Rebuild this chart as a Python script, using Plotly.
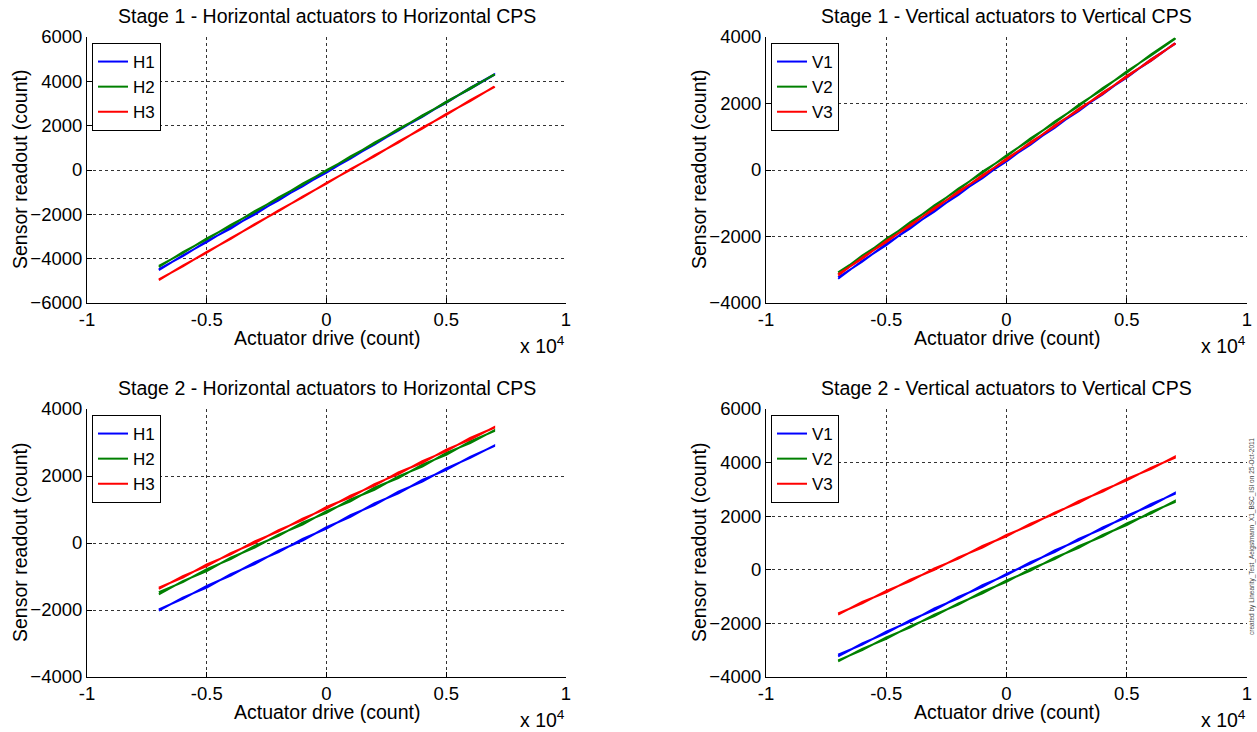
import plotly.graph_objects as go

# Actuator drive sweep (counts); each channel is swept up then back down
drive = [-7000, -6000, -5000, -4000, -3000, -2000, -1000, 0,
         1000, 2000, 3000, 4000, 5000, 6000, 7000]

# Stage 1 horizontal (sweep up / sweep down)
s1_h1_up = [-4520, -3850, -3260, -2590, -2010, -1330, -740, -80, 510, 1180, 1770, 2440, 3030, 3700, 4310]
s1_h1_dn = [-4470, -3890, -3210, -2640, -1960, -1370, -700, -120, 550, 1140, 1810, 2400, 3070, 3660, 4290]
s1_h2_up = [-4370, -3710, -3130, -2480, -1900, -1240, -660, -5, 570, 1230, 1810, 2460, 3040, 3700, 4290]
s1_h2_dn = [-4330, -3750, -3090, -2520, -1860, -1280, -620, -45, 610, 1190, 1850, 2420, 3080, 3660, 4310]
s1_h3_up = [-4970, -4310, -3730, -3070, -2480, -1820, -1240, -580, 0, 660, 1240, 1910, 2490, 3150, 3740]
s1_h3_dn = [-4930, -4350, -3690, -3110, -2440, -1860, -1200, -620, 40, 620, 1280, 1870, 2530, 3110, 3760]

# Stage 1 vertical
s1_v1_up = [-3270, -2730, -2260, -1720, -1255, -710, -245, 295, 760, 1305, 1770, 2310, 2775, 3320, 3790]
s1_v1_dn = [-3230, -2760, -2220, -1760, -1215, -750, -205, 255, 800, 1265, 1810, 2270, 2815, 3280, 3810]
s1_v2_up = [-3120, -2575, -2110, -1565, -1100, -555, -90, 445, 910, 1455, 1920, 2465, 2930, 3475, 3960]
s1_v2_dn = [-3080, -2615, -2070, -1605, -1060, -595, -50, 405, 950, 1415, 1960, 2425, 2970, 3435, 3940]
s1_v3_up = [-3170, -2630, -2170, -1640, -1180, -640, -190, 345, 800, 1340, 1800, 2330, 2790, 3320, 3790]
s1_v3_dn = [-3130, -2670, -2130, -1680, -1140, -680, -150, 305, 840, 1300, 1840, 2290, 2830, 3280, 3810]

# Stage 2 horizontal
s2_h1_up = [-2020, -1630, -1330, -930, -630, -230, 70, 470, 780, 1180, 1480, 1880, 2180, 2570, 2890]
s2_h1_dn = [-1980, -1670, -1280, -970, -580, -270, 120, 430, 830, 1130, 1530, 1830, 2230, 2540, 2910]
s2_h2_up = [-1530, -1140, -840, -440, -140, 250, 550, 950, 1240, 1650, 1940, 2340, 2630, 3030, 3340]
s2_h2_dn = [-1470, -1170, -780, -480, -90, 210, 610, 900, 1300, 1590, 1990, 2280, 2690, 2980, 3360]
s2_h3_up = [-1370, -990, -690, -300, 0, 385, 680, 1075, 1365, 1760, 2055, 2445, 2740, 3135, 3440]
s2_h3_dn = [-1330, -1030, -640, -340, 45, 345, 730, 1025, 1415, 1710, 2105, 2395, 2790, 3085, 3460]

# Stage 2 vertical
s2_v1_up = [-3230, -2750, -2365, -1880, -1500, -1015, -635, -150, 230, 720, 1095, 1585, 1960, 2450, 2830]
s2_v1_dn = [-3170, -2790, -2305, -1930, -1440, -1065, -575, -200, 290, 660, 1155, 1525, 2020, 2390, 2870]
s2_v2_up = [-3420, -2950, -2580, -2100, -1730, -1250, -880, -400, -30, 450, 820, 1300, 1670, 2150, 2530]
s2_v2_dn = [-3380, -3000, -2520, -2150, -1670, -1300, -820, -450, 30, 400, 880, 1250, 1730, 2100, 2570]
s2_v3_up = [-1670, -1200, -845, -370, -5, 465, 830, 1300, 1665, 2135, 2500, 2970, 3335, 3805, 4180]
s2_v3_dn = [-1630, -1255, -785, -420, 55, 415, 890, 1250, 1725, 2085, 2560, 2920, 3395, 3755, 4220]

x_ticks = [-10000, -5000, 0, 5000, 10000]
x_tick_text = ["-1", "-0.5", "0", "0.5", "1"]

titles = [
    "Stage 1 - Horizontal actuators to Horizontal CPS",
    "Stage 1 - Vertical actuators to Vertical CPS",
    "Stage 2 - Horizontal actuators to Horizontal CPS",
    "Stage 2 - Vertical actuators to Vertical CPS",
]
y_ranges = [[-6000, 6000], [-4000, 4000], [-4000, 4000], [-4000, 6000]]
y_dticks = [2000, 2000, 2000, 2000]

panels = [
    [("H1", s1_h1_up, s1_h1_dn), ("H2", s1_h2_up, s1_h2_dn), ("H3", s1_h3_up, s1_h3_dn)],
    [("V1", s1_v1_up, s1_v1_dn), ("V2", s1_v2_up, s1_v2_dn), ("V3", s1_v3_up, s1_v3_dn)],
    [("H1", s2_h1_up, s2_h1_dn), ("H2", s2_h2_up, s2_h2_dn), ("H3", s2_h3_up, s2_h3_dn)],
    [("V1", s2_v1_up, s2_v1_dn), ("V2", s2_v2_up, s2_v2_dn), ("V3", s2_v3_up, s2_v3_dn)],
]
colors = ["#0000ff", "#008000", "#ff0000"]

W, H = 1257, 732
# axes boxes in pixels: (left, right, top, bottom)
boxes = [(87, 566, 37, 303), (766, 1247, 37, 303),
         (87, 566, 409, 677), (766, 1247, 409, 677)]

FONT = "Liberation Sans, Arial, sans-serif"
TXT = dict(family=FONT, size=19.5, color="black")
fig = go.Figure()
annotations = []

for i, (series, box) in enumerate(zip(panels, boxes)):
    n = "" if i == 0 else str(i + 1)
    xa, ya = "x" + n, "y" + n
    leg = "legend" + n
    for (name, up, dn), c in zip(series, colors):
        fig.add_trace(go.Scatter(
            x=drive + drive[::-1], y=up + dn[::-1], mode="lines", name=name,
            line=dict(color=c, width=2), xaxis=xa, yaxis=ya, legend=leg,
        ))
    l, r, t, b = box
    dom_x = [l / W, r / W]
    dom_y = [1 - b / H, 1 - t / H]
    axis_common = dict(
        showline=True, linecolor="black", linewidth=1, mirror=False,
        ticks="inside", ticklen=5, tickcolor="black", automargin=False,
        showgrid=True, gridcolor="#333333", griddash="dot", gridwidth=1,
        zeroline=False, tickfont=dict(family=FONT, size=18.5, color="black"),
    )
    fig.layout["xaxis" + n] = dict(
        domain=dom_x, range=[-10000, 10000], tickvals=x_ticks, ticktext=x_tick_text,
        anchor=ya, **axis_common)
    fig.layout["yaxis" + n] = dict(
        domain=dom_y, range=y_ranges[i], dtick=y_dticks[i], tick0=0,
        anchor=xa, **axis_common)
    fig.layout[leg] = dict(
        x=(l + 5) / W, y=1 - (t + 6) / H, xanchor="left", yanchor="top",
        bgcolor="white", bordercolor="black", borderwidth=1,
        font=dict(family=FONT, size=17, color="black"),
        tracegroupgap=0, itemwidth=30,
    )
    cx = (l + r) / 2 / W
    annotations += [
        dict(text=titles[i], x=cx, y=1 - (t - 21) / H, xref="paper", yref="paper",
             xanchor="center", yanchor="middle", showarrow=False, font=TXT),
        dict(text="Actuator drive (count)", x=cx, y=1 - (b + 35) / H, xref="paper", yref="paper",
             xanchor="center", yanchor="middle", showarrow=False, font=TXT),
        dict(text="x 10<sup>4</sup>", x=(r + 1) / W, y=1 - (b + 42) / H, xref="paper", yref="paper",
             xanchor="right", yanchor="middle", showarrow=False, font=TXT),
        dict(text="Sensor readout (count)", x=(l - 67) / W, y=1 - (t + b) / 2 / H,
             xref="paper", yref="paper", xanchor="center", yanchor="middle",
             textangle=-90, showarrow=False, font=TXT),
    ]

annotations.append(dict(
    text="created by Linearity_Test_Aeigstmann_X1_BSC_ISI on 25-Oct-2011",
    x=1252 / W, y=1 - 537 / H, xref="paper", yref="paper", xanchor="center", yanchor="middle",
    textangle=-90, showarrow=False, font=dict(family=FONT, size=6.5, color="#444444")))

fig.update_layout(
    width=W, height=H, margin=dict(l=0, r=0, t=0, b=0),
    paper_bgcolor="white", plot_bgcolor="white",
    annotations=annotations, showlegend=True,
)

fig.write_html("out.html")
